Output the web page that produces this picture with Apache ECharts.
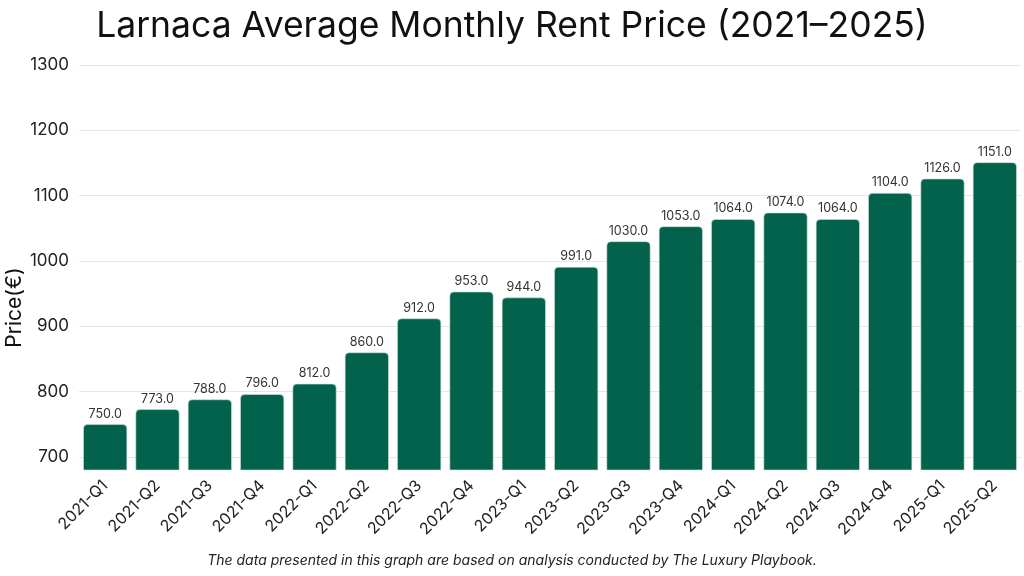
<!DOCTYPE html>
<html><head><meta charset="utf-8">
<script src="https://cdn.jsdelivr.net/npm/echarts@6/dist/echarts.min.js"></script>
<style>html,body{margin:0;padding:0;background:#fff}#c{width:1024px;height:576px}</style>
</head><body><div id="c"></div>
<script>
const categories = ['2021-Q1','2021-Q2','2021-Q3','2021-Q4','2022-Q1','2022-Q2','2022-Q3','2022-Q4','2023-Q1','2023-Q2','2023-Q3','2023-Q4','2024-Q1','2024-Q2','2024-Q3','2024-Q4','2025-Q1','2025-Q2'];
const prices = [750,773,788,796,812,860,912,953,944,991,1030,1053,1064,1074,1064,1104,1126,1151];
const yTicks = [700,800,900,1000,1100,1200,1300];
const titleText = 'Larnaca Average Monthly Rent Price (2021–2025)';
const yName = 'Price(€)';
const footnote = 'The data presented in this graph are based on analysis conducted by The Luxury Playbook.';
const FONT = 'Inter, "Noto Sans", sans-serif';
const chart = echarts.init(document.getElementById('c'));
chart.setOption({
  backgroundColor:'#fff',
  animation:false,
  textStyle:{fontFamily:FONT},
  title:[{text:titleText,left:'center',top:3,textStyle:{fontFamily:FONT,fontSize:35.5,fontWeight:'normal',color:'#111'}},
         {text:footnote,left:'center',top:549,textStyle:{fontFamily:FONT,fontSize:14,fontStyle:'italic',fontWeight:'normal',color:'#222'}}],
  grid:{left:79,right:3,top:65,bottom:106,containLabel:false,outerBoundsMode:'none'},
  xAxis:{type:'category',data:categories,
    axisLine:{show:false},axisTick:{show:false},
    axisLabel:{rotate:45,fontSize:16,color:'#222',margin:13,fontFamily:FONT}},
  yAxis:{type:'value',min:680,max:1300,interval:20,
    name:yName,nameLocation:'middle',nameGap:54,nameMoveOverlap:false,
    nameTextStyle:{fontSize:21,color:'#111',fontFamily:FONT,padding:[0,80,0,0]},
    axisLine:{show:false},axisTick:{show:false},splitLine:{show:false},
    axisLabel:{fontSize:17,color:'#222',margin:10,fontFamily:FONT,
      formatter:v=>yTicks.includes(v)?String(v):''}},
  series:[{type:'bar',data:prices,barWidth:'84%',
    itemStyle:{color:'#03624C',borderRadius:[4,4,0,0],borderColor:'#cfe3dc',borderWidth:0.6},
    label:{show:true,position:'top',distance:4,fontSize:12.5,color:'#333',fontFamily:FONT,formatter:p=>p.value.toFixed(1)},
    markLine:{silent:true,symbol:'none',label:{show:false},z:0,
      lineStyle:{color:'#e6e6e6',type:'solid',width:1},
      data:yTicks.map(v=>({yAxis:v}))},
    z:2}]
});
</script></body></html>
